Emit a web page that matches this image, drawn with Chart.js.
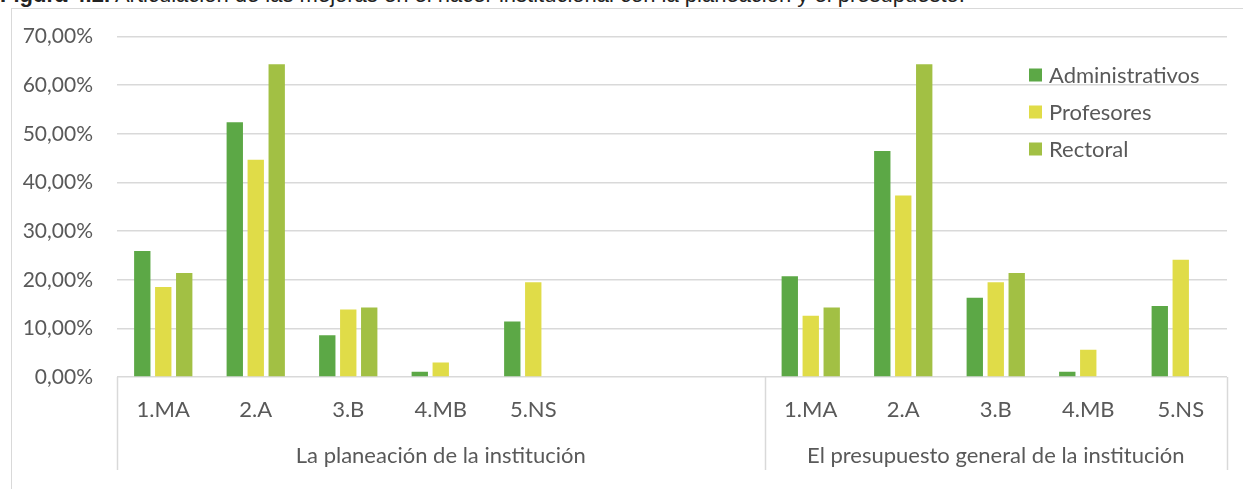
<!DOCTYPE html>
<html>
<head>
<meta charset="utf-8">
<script src="https://cdn.jsdelivr.net/npm/chart.js@4.4.1/dist/chart.umd.min.js"></script>
<style>
  html, body { margin: 0; padding: 0; background: #fff; }
  #wrap { position: relative; width: 1243px; height: 489px; overflow: hidden; }
  #title { position: absolute; left: 0; top: -16px; font: 22px "Liberation Sans", Arial, sans-serif; color: #222; white-space: nowrap; line-height: 22px; }
  #frame { position: absolute; left: 11px; top: 8px; width: 1300px; height: 600px; border-left: 1px solid #d9d9d9; border-top: 1px solid #d9d9d9; }
  #chart { position: absolute; left: 0; top: 0; }
</style>
</head>
<body>
<div id="wrap">
  <div id="title"><b>Figura 4.2.</b> Articulación de las mejoras en el hacer institucional con la planeación y el presupuesto.</div>
  <div id="frame"></div>
  <canvas id="chart" width="1243" height="489"></canvas>
</div>
<script>
// Categories: two groups, the first one has two empty slots at the end
const groups = ['La planeación de la institución', 'El presupuesto general de la institución'];
const groupSizes = [7, 5];
const categories = ['1.MA', '2.A', '3.B', '4.MB', '5.NS', '', '',
                    '1.MA', '2.A', '3.B', '4.MB', '5.NS'];

// Percentages
const administrativos = [25.9, 52.4, 8.6, 1.1, 11.4, null, null, 20.7, 46.5, 16.3, 1.1, 14.6];
const profesores      = [18.5, 44.7, 13.9, 3.0, 19.5, null, null, 12.6, 37.3, 19.5, 5.6, 24.1];
const rectoral        = [21.4, 64.3, 14.3, 0, 0, null, null, 14.3, 64.3, 21.4, 0, 0];

const yTicks = [0, 10, 20, 30, 40, 50, 60, 70];

const textColor = '#595959';
const gridColor = '#d9d9d9';
const font = 'Lato';

// group labels + separators under the category axis
const groupAxis = {
  id: 'groupAxis',
  afterDraw(chart) {
    const ctx = chart.ctx;
    const x = chart.scales.x;
    const top = chart.chartArea.bottom;
    const half = (x.getPixelForValue(1) - x.getPixelForValue(0)) / 2;
    ctx.save();
    ctx.strokeStyle = gridColor;
    ctx.lineWidth = 1.5;
    ctx.fillStyle = textColor;
    ctx.font = '22px ' + font;
    ctx.textAlign = 'center';
    ctx.textBaseline = 'middle';
    let start = 0;
    const edges = [x.getPixelForValue(0) - half];
    groups.forEach((g, i) => {
      const end = start + groupSizes[i] - 1;
      const left = x.getPixelForValue(start) - half;
      const right = x.getPixelForValue(end) + half;
      edges.push(right);
      ctx.fillText(g, (left + right) / 2, 456);
      start = end + 1;
    });
    edges.forEach(px => {
      ctx.beginPath();
      ctx.moveTo(Math.round(px) + 0.5, top);
      ctx.lineTo(Math.round(px) + 0.5, 470);
      ctx.stroke();
    });
    ctx.restore();
  }
};

// legend drawn inside the plot, top right
const innerLegend = {
  id: 'innerLegend',
  afterDraw(chart) {
    const ctx = chart.ctx;
    ctx.save();
    ctx.font = '22px ' + font;
    ctx.textBaseline = 'middle';
    ctx.textAlign = 'left';
    chart.data.datasets.forEach((ds, i) => {
      const cy = 75 + i * 37;
      ctx.fillStyle = ds.backgroundColor;
      ctx.fillRect(1029, cy - 6.5, 13, 13);
      ctx.fillStyle = textColor;
      ctx.fillText(ds.label, 1049, cy + 1);
    });
    ctx.restore();
  }
};

new Chart(document.getElementById('chart'), {
  type: 'bar',
  data: {
    labels: categories,
    datasets: [
      { label: 'Administrativos', data: administrativos, backgroundColor: '#5ca846' },
      { label: 'Profesores', data: profesores, backgroundColor: '#e0dc48' },
      { label: 'Rectoral', data: rectoral, backgroundColor: '#a2c044' }
    ]
  },
  options: {
    responsive: false,
    animation: false,
    devicePixelRatio: 1,
    layout: { padding: { top: 35, right: 16, left: 0, bottom: 0 } },
    datasets: {
      bar: { categoryPercentage: 0.68, barPercentage: 0.78 }
    },
    plugins: {
      legend: { display: false },
      tooltip: { enabled: false }
    },
    scales: {
      x: {
        grid: { display: false, drawTicks: false },
        border: { display: false },
        ticks: { color: textColor, font: { family: font, size: 22 }, padding: 20, maxRotation: 0, autoSkip: false },
        afterFit(s) { s.height = 112; }
      },
      y: {
        min: 0,
        max: 70,
        afterBuildTicks(s) { s.ticks = yTicks.map(v => ({ value: v })); },
        grid: { color: gridColor, lineWidth: 1.5, drawTicks: false },
        border: { display: false },
        ticks: {
          color: textColor,
          font: { family: font, size: 21 },
          padding: 24,
          callback: v => v.toFixed(2).replace('.', ',') + '%'
        },
        afterFit(s) { s.width = 117; }
      }
    }
  },
  plugins: [groupAxis, innerLegend]
});
</script>
</body>
</html>
